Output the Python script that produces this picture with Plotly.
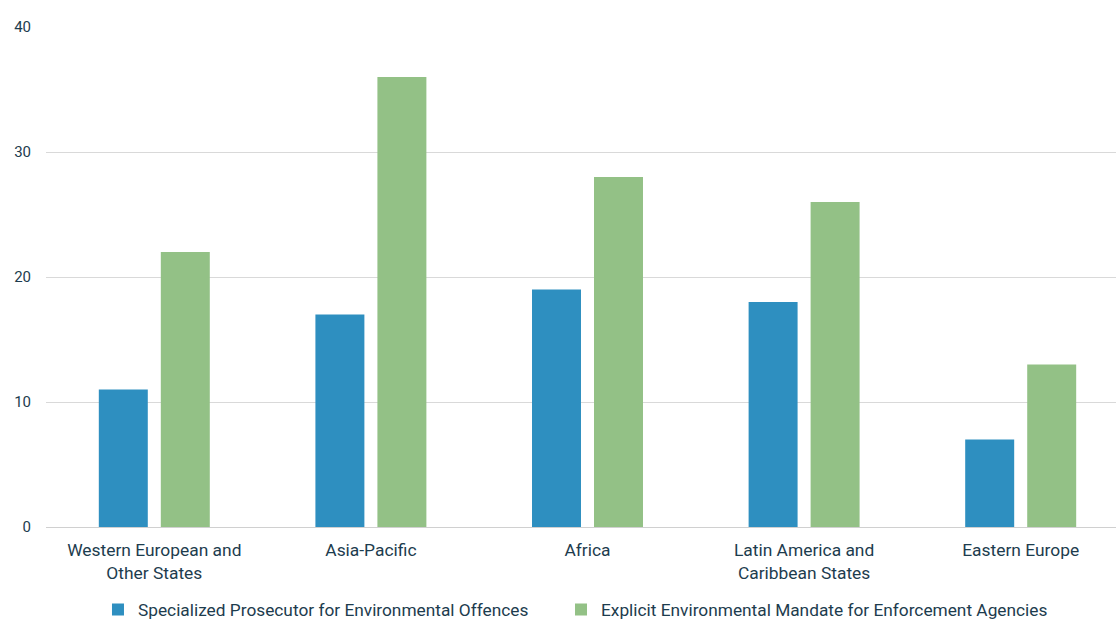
import plotly.graph_objects as go

categories = ["Western European and<br>Other States", "Asia-Pacific", "Africa",
              "Latin America and<br>Caribbean States", "Eastern Europe"]
prosecutor = [11, 17, 19, 18, 7]
mandate = [22, 36, 28, 26, 13]
series_names = ["Specialized Prosecutor for Environmental Offences",
                "Explicit Environmental Mandate for Enforcement Agencies"]
y_ticks = [0, 10, 20, 30, 40]

txt = "#1d3c4e"
fig = go.Figure()
fig.add_trace(go.Bar(x=categories, y=prosecutor, name=series_names[0], legend="legend",
                     marker=dict(color="#2e8fc0", line=dict(width=0))))
fig.add_trace(go.Bar(x=categories, y=mandate, name=series_names[1], legend="legend2",
                     marker=dict(color="#93c186", line=dict(width=0))))

leg_common = dict(orientation="h", xanchor="left", xref="container",
                  y=0.015, yanchor="middle", yref="container",
                  font=dict(size=17.3, color=txt), itemwidth=30,
                  bgcolor="rgba(0,0,0,0)")

fig.update_layout(
    width=1116, height=619,
    margin=dict(l=46, r=0, t=27, b=92),
    paper_bgcolor="white", plot_bgcolor="white",
    font=dict(family="Roboto", size=15, color=txt),
    barmode="group", bargap=0.4275, bargroupgap=0.21,
    showlegend=True,
    legend=dict(x=0.0878, **leg_common),
    legend2=dict(x=0.5027, **leg_common),
    xaxis=dict(showgrid=False, showline=False, ticks="", automargin=False,
               range=[-0.5, 4.44],
               ticklabelstandoff=11, tickfont=dict(size=17.4, color=txt)),
    yaxis=dict(range=[0, 40], tickvals=y_ticks, showgrid=True, gridcolor="#d9d9d9",
               gridwidth=1, zeroline=True, zerolinecolor="#d0d0d0", zerolinewidth=1,
               automargin=False, ticks="", ticklabelstandoff=14,
               tickfont=dict(size=15, color=txt)),
)
js = ("var s=document.createElement('style');"
      "s.textContent='html,body{margin:0;padding:0;overflow:hidden;width:1116px;height:619px}"
      ".plotly-graph-div{display:block}';"
      "document.head.appendChild(s);")
fig.write_html("out.html", config={"displayModeBar": False}, post_script=js)
